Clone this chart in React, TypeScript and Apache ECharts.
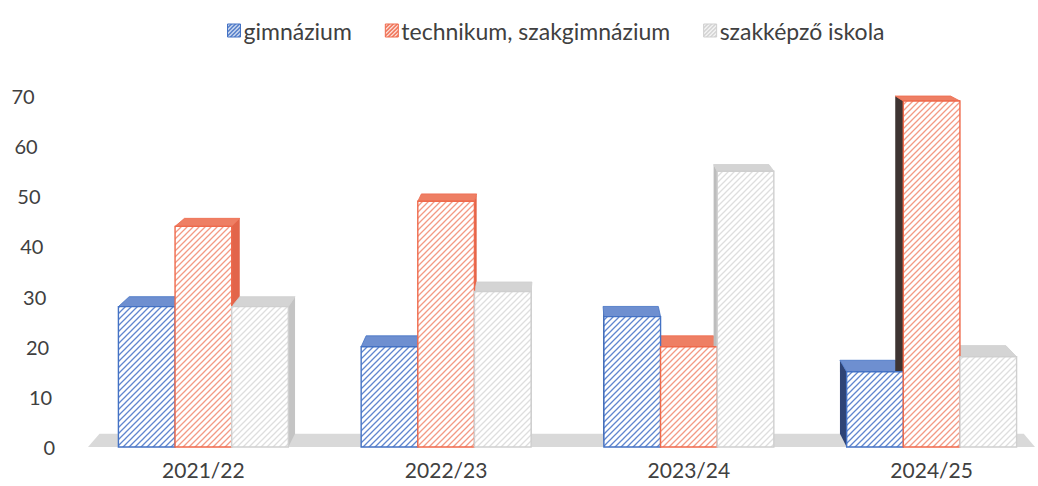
import React, { useEffect, useRef } from "react";
import * as echarts from "echarts";

const categories = ["2021/22", "2022/23", "2023/24", "2024/25"];
const gimnazium = [28, 20, 26, 15];
const technikum = [44, 49, 20, 69];
const szakkepzo = [28, 31, 55, 18];
const seriesNames = ["gimnázium", "technikum, szakgimnázium", "szakképző iskola"];
const seriesValues = [gimnazium, technikum, szakkepzo];
const yTicks = [0, 10, 20, 30, 40, 50, 60, 70];

const styles = [
  { border: "#4472C4", hatch: "#5f86cf", top: "#6e8fd0", sideR: "#5a7cc0", sideL: "#2f4476", legend: "#7e9ed8" },
  { border: "#EF6A4C", hatch: "#f39a84", top: "#ee7f64", sideR: "#e2654a", sideL: "#3e3432", legend: "#f08a72" },
  { border: "#cfcfcf", hatch: "#dedede", top: "#d4d4d4", sideR: "#c4c4c4", sideL: "#bdbdbd", legend: "#e6e6e6" },
];

function hatch(bg: string, line: string, lw = 1.3, size = 6) {
  const c = document.createElement("canvas");
  c.width = size;
  c.height = size;
  const ctx = c.getContext("2d")!;
  ctx.fillStyle = bg;
  ctx.fillRect(0, 0, size, size);
  ctx.strokeStyle = line;
  ctx.lineWidth = lw;
  ctx.beginPath();
  ctx.moveTo(0, size);
  ctx.lineTo(size, 0);
  ctx.moveTo(-size / 2, size / 2);
  ctx.lineTo(size / 2, -size / 2);
  ctx.moveTo(size / 2, size * 1.5);
  ctx.lineTo(size * 1.5, size / 2);
  ctx.stroke();
  return { image: c.toDataURL(), repeat: "repeat", imageWidth: size, imageHeight: size } as any;
}

const S = 0.024;
function vp(cs: any) {
  return { x: cs.x + cs.width / 2, y: cs.y - cs.height * 0.58 };
}
function back(p: number[], v: { x: number; y: number }) {
  return [p[0] + (v.x - p[0]) * S, p[1] + (v.y - p[1]) * S];
}
function barGeom(params: any, api: any, si: number) {
  const idx = api.value(0);
  const val = api.value(1);
  const band = api.size([1, 0])[0];
  const w = (band * 0.7) / 3;
  const base = api.coord([idx, 0]);
  const top = api.coord([idx, val]);
  const x0 = base[0] - 1.5 * w + si * w;
  return { x0, w, yb: base[1], yt: top[1] };
}

export default function App() {
  const ref = useRef<HTMLDivElement>(null);
  useEffect(() => {
    if (!ref.current) return;
    const chart = echarts.init(ref.current, null, { renderer: "svg" });
    const fonts = "Lato, 'Open Sans', sans-serif";

    const backSeries = seriesValues.map((vals, si) => ({
      type: "custom",
      name: "back" + si,
      data: vals.map((v, i) => [i, v]),
      encode: { x: 0, y: 1 },
      z: 2,
      renderItem: (params: any, api: any) => {
        const g = barGeom(params, api, si);
        const v = vp(params.coordSys);
        const st = styles[si];
        const FL = [g.x0, g.yt];
        const FR = [g.x0 + g.w, g.yt];
        const children: any[] = [];
        const rightEdge = g.x0 + g.w;
        if (rightEdge < v.x) {
          const b1 = [rightEdge, g.yb];
          children.push({
            type: "polygon",
            shape: { points: [FR, back(FR, v), back(b1, v), b1] },
            style: { fill: st.sideR },
          });
        } else if (g.x0 > v.x) {
          const b1 = [g.x0, g.yb];
          children.push({
            type: "polygon",
            shape: { points: [FL, back(FL, v), back(b1, v), b1] },
            style: { fill: st.sideL },
          });
        }
        children.push({
          type: "polygon",
          shape: { points: [FL, FR, back(FR, v), back(FL, v)] },
          style: { fill: st.top, stroke: st.border, lineWidth: 0.8 },
        });
        return { type: "group", children };
      },
    }));

    const frontSeries = seriesValues.map((vals, si) => ({
      type: "custom",
      name: seriesNames[si],
      data: vals.map((v, i) => [i, v]),
      encode: { x: 0, y: 1 },
      z: 3,
      itemStyle: { color: styles[si].legend },
      renderItem: (params: any, api: any) => {
        const g = barGeom(params, api, si);
        const st = styles[si];
        return {
          type: "rect",
          shape: { x: g.x0, y: g.yt, width: g.w, height: g.yb - g.yt },
          style: { fill: hatch("#ffffff", st.hatch), stroke: st.border, lineWidth: 1.4 },
        };
      },
    }));

    const floorSeries = {
      type: "custom",
      name: "floor",
      data: [[0, 0]],
      encode: { x: 0, y: 1 },
      z: 1,
      renderItem: (params: any, api: any) => {
        const cs = params.coordSys;
        const v = vp(cs);
        const yb = api.coord([0, 0])[1];
        const L = [cs.x + 6, yb];
        const R = [cs.x + cs.width - 18, yb];
        return {
          type: "polygon",
          shape: { points: [L, R, back(R, v), back(L, v)] },
          style: { fill: "#d9d9d9" },
        };
      },
    };

    const rich: any = {};
    yTicks.forEach((t) => {
      rich["t" + t] = { fontSize: 20, color: "#404040", fontFamily: fonts, padding: [0, (t / 10) * 2.9, 0, 0] };
    });

    chart.setOption({
      animation: false,
      backgroundColor: "#ffffff",
      textStyle: { fontFamily: fonts },
      legend: {
        data: seriesNames.map((n, i) => ({
          name: n,
          icon: "rect",
          itemStyle: { color: hatch("#ffffff", styles[i].border, 1.6, 4), borderColor: styles[i].border, borderWidth: 1 },
        })),
        left: 222,
        top: 14,
        itemWidth: 13,
        itemHeight: 13,
        itemGap: 33,
        textStyle: { fontSize: 23, color: "#404040", fontFamily: fonts, padding: [0, 0, 0, -2] },
      },
      grid: { left: 82, right: 7, top: 96, bottom: 39 },
      xAxis: {
        type: "category",
        data: categories,
        axisLine: { show: false },
        axisTick: { show: false },
        axisLabel: { fontSize: 21, color: "#404040", margin: 12, fontFamily: fonts },
      },
      yAxis: {
        type: "value",
        min: 0,
        max: 70,
        interval: 10,
        axisLine: { show: false },
        axisTick: { show: false },
        splitLine: { show: false },
        axisLabel: {
          margin: 27,
          formatter: (v: number) => `{t${v}|${v}}`,
          rich,
        },
      },
      series: [floorSeries, ...backSeries, ...frontSeries],
    });
    return () => chart.dispose();
  }, []);
  return (
    <div style={{ position: "fixed", left: 0, top: 0, width: 1038, height: 486, overflow: "hidden", background: "#fff" }}>
      <div ref={ref} style={{ position: "absolute", left: 0, top: 0, width: 1060, height: 486 }} />
    </div>
  );
}
